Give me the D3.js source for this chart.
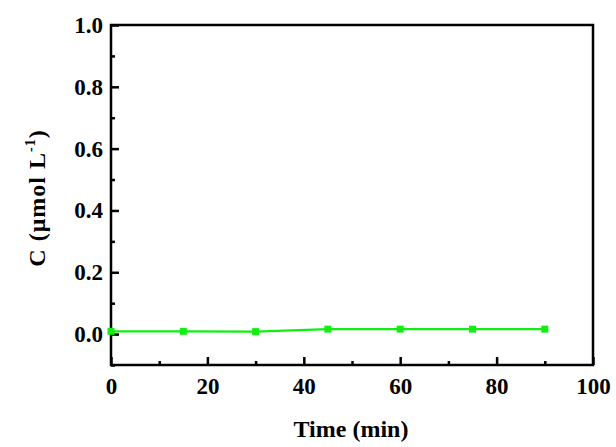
<!DOCTYPE html>
<html>
<head>
<meta charset="utf-8">
<script src="https://cdn.jsdelivr.net/npm/d3@7"></script>
<style>
  body { margin: 0; background: #fff; }
  svg { display: block; font-family: "Liberation Serif", "Times New Roman", serif; }
</style>
</head>
<body>
<div id="chart"></div>
<script>
// data
const times = [0, 15, 30, 45, 60, 75, 90];
const conc = [0.009, 0.009, 0.008, 0.016, 0.016, 0.016, 0.016];
const xTicks = [0, 20, 40, 60, 80, 100];
const yTicks = [0.0, 0.2, 0.4, 0.6, 0.8, 1.0];

const width = 616;
const height = 447;
const marginTop = 25;
const marginRight = 23;
const marginBottom = 82;
const marginLeft = 111;

const x = d3.scaleLinear()
    .domain([0, 100])
    .range([marginLeft, width - marginRight]);

const y = d3.scaleLinear()
    .domain([-0.1, 1.0])
    .range([height - marginBottom, marginTop]);

const svg = d3.select("#chart").append("svg")
    .attr("width", width)
    .attr("height", height)
    .attr("viewBox", [0, 0, width, height]);

// frame
svg.append("rect")
    .attr("x", marginLeft)
    .attr("y", marginTop)
    .attr("width", width - marginRight - marginLeft)
    .attr("height", height - marginBottom - marginTop)
    .attr("fill", "none")
    .attr("stroke", "#000")
    .attr("stroke-width", 2.5);

// x axis, ticks pointing inward
const xAxis = svg.append("g")
    .attr("transform", `translate(0,${height - marginBottom})`);
xAxis.call(d3.axisBottom(x).tickValues(d3.range(10, 100, 20)).tickSize(-4).tickFormat(""))
    .call(g => g.select(".domain").remove());
xAxis.append("g")
    .call(d3.axisBottom(x).tickValues(xTicks).tickSize(-8).tickPadding(13).tickFormat(d3.format("d")))
    .call(g => g.select(".domain").remove());
xAxis.selectAll(".tick line").attr("stroke-width", 2.5);
xAxis.selectAll(".tick text")
    .style("font-size", "23px")
    .style("font-weight", "bold")
    .style("font-family", "'Liberation Serif', serif")
    .attr("fill", "#000");

// y axis
const yAxis = svg.append("g")
    .attr("transform", `translate(${marginLeft},0)`);
yAxis.call(d3.axisLeft(y).tickValues(d3.range(-0.1, 1.0, 0.2).map(v => +v.toFixed(1))).tickSize(-4).tickFormat(""))
    .call(g => g.select(".domain").remove());
yAxis.append("g")
    .call(d3.axisLeft(y).tickValues(yTicks).tickSize(-8).tickPadding(8).tickFormat(d3.format(".1f")))
    .call(g => g.select(".domain").remove());
yAxis.selectAll(".tick line").attr("stroke-width", 2.5);
yAxis.selectAll(".tick text")
    .style("font-size", "23px")
    .style("font-weight", "bold")
    .style("font-family", "'Liberation Serif', serif")
    .attr("fill", "#000");

// line and markers
const line = d3.line()
    .x((d, i) => x(times[i]))
    .y(d => y(d));

svg.append("path")
    .datum(conc)
    .attr("fill", "none")
    .attr("stroke", "#11ee11")
    .attr("stroke-width", 2.2)
    .attr("d", line);

svg.append("g")
    .attr("fill", "#11ee11")
  .selectAll("rect")
  .data(conc)
  .join("rect")
    .attr("x", (d, i) => x(times[i]) - 3.5)
    .attr("y", d => y(d) - 3.5)
    .attr("width", 7)
    .attr("height", 7);

// axis titles
svg.append("text")
    .attr("x", 351)
    .attr("y", 437)
    .attr("text-anchor", "middle")
    .style("font-size", "24px")
    .style("font-weight", "bold")
    .text("Time (min)");

const yl = svg.append("text")
    .attr("transform", "translate(45,198) rotate(-90)")
    .attr("text-anchor", "middle")
    .style("font-size", "24px")
    .style("letter-spacing", "1px")
    .style("font-weight", "bold");
yl.append("tspan").text("C (μmol L");
yl.append("tspan").style("font-size", "14px").attr("dy", -10).text("-1");
yl.append("tspan").attr("dy", 10).text(")");
</script>
</body>
</html>
